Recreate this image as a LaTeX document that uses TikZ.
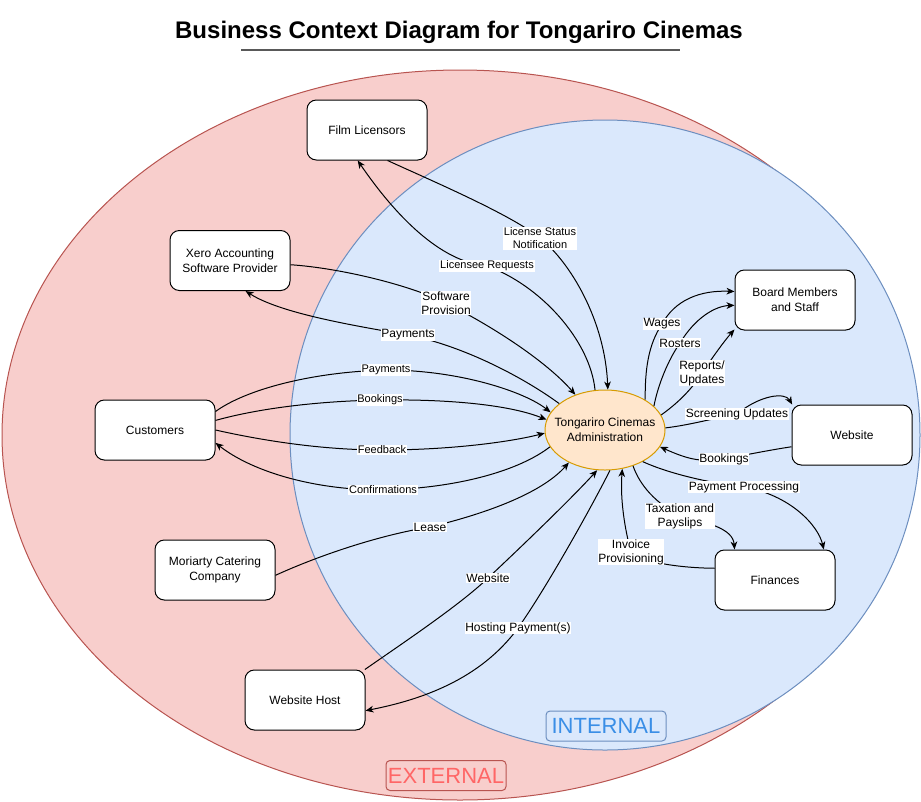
\documentclass[tikz,border=0pt]{standalone}
\usepackage{fontspec}
\setmainfont{Liberation Sans}
\usetikzlibrary{arrows.meta,shapes.geometric}
\definecolor{extfill}{HTML}{F8CECC}
\definecolor{extline}{HTML}{B85450}
\definecolor{exttext}{HTML}{FF6666}
\definecolor{intfill}{HTML}{DAE8FC}
\definecolor{intline}{HTML}{6C8EBF}
\definecolor{inttext}{HTML}{3A8EE6}
\definecolor{admfill}{HTML}{FFE6CC}
\definecolor{admline}{HTML}{D79B00}
\begin{document}
\begin{tikzpicture}[x=0.75pt,y=-0.75pt,
  box/.style={draw=black, fill=white, rounded corners=7pt, minimum width=90pt,
    minimum height=45pt, align=center, font=\fontsize{9}{11}\selectfont,
    line width=0.75pt, inner sep=2pt},
  flow/.style={draw=black, line width=0.75pt,
    -{Stealth[length=6pt,width=5pt,inset=1.8pt]}},
  lab/.style={fill=white, inner sep=0.6pt, align=center,
    font=\fontsize{9}{10.5}\selectfont},
  labs/.style={lab, font=\fontsize{8.25}{10}\selectfont},
  region/.style={rounded corners=3pt, minimum width=90pt, minimum height=22.5pt,
    inner sep=0pt, line width=0.75pt, font=\fontsize{16.5}{18}\selectfont}
]
\useasboundingbox (0,0) rectangle (921,801);

% title and underline
\node[font=\bfseries\fontsize{18}{20}\selectfont, anchor=base] (title) at (459,38)
  {Business Context Diagram for Tongariro Cinemas};
\coordinate (ulA) at (241,50);
\coordinate (ulB) at (680,50);
\draw[black!65, line width=1.1pt] (ulA) -- (ulB);

% external and internal areas
\filldraw[fill=extfill, draw=extline, line width=0.75pt]
  (460,435) ellipse [x radius=458, y radius=365];
\filldraw[fill=intfill, draw=intline, line width=0.75pt]
  (605,435) ellipse [x radius=315, y radius=315];
\node[region, draw=intline, fill=intfill, text=inttext] (intlab) at (606,726) {INTERNAL};
\node[region, draw=extline, fill=extfill, text=exttext] (extlab) at (446,775.5) {EXTERNAL};

% entities
\node[ellipse, draw=admline, fill=admfill, line width=0.75pt, minimum width=90pt,
  minimum height=60pt, inner xsep=-8pt, inner ysep=0pt, align=center,
  font=\fontsize{9}{11}\selectfont] (admin) at (605,430)
  {Tongariro Cinemas\\Administration};
\node[box] (film) at (367,130) {Film Licensors};
\node[box] (xero) at (230,260.5) {Xero Accounting\\Software Provider};
\node[box] (cust) at (155,430) {Customers};
\node[box] (mor) at (215,570) {Moriarty Catering\\Company};
\node[box] (host) at (305,700) {Website Host};
\node[box] (board) at (795,300) {Board Members\\and Staff};
\node[box] (web) at (852,435) {Website};
\node[box] (fin) at (775,580) {Finances};

% film licensors
\draw[flow] (film.304) .. controls (430,180) and (510,214) .. (540,238)
  node[labs] {License Status\\Notification}
  .. controls (570,262) and (605,320) .. (admin.86);
\draw[flow] (admin.104) .. controls (590,340) and (540,285) .. (487,266)
  node[labs] {Licensee Requests}
  .. controls (440,262) and (395,215) .. (film.253);

% xero
\draw[flow] (xero.356) .. controls (340,268) and (410,285) .. (446,303)
  node[lab] {Software\\Provision}
  .. controls (490,325) and (545,360) .. (admin.130);
\draw[flow] (admin.150) .. controls (520,375) and (460,345) .. (408,335)
  node[lab] {Payments}
  .. controls (350,325) and (280,313) .. (xero.297);

% customers
\draw[flow] (cust.17) .. controls (245,390) and (310,372) .. (386,370)
  node[labs] {Payments}
  .. controls (460,370) and (525,392) .. (admin.162);
\draw[flow] (cust.9.5) .. controls (260,408) and (320,401) .. (380,400)
  node[labs] {Bookings}
  .. controls (450,399) and (510,405) .. (admin.170);
\draw[flow] (cust.0) .. controls (260,440) and (320,450) .. (382,450)
  node[labs] {Feedback}
  .. controls (450,450) and (510,442) .. (admin.183);
\draw[flow] (admin.197) .. controls (520,470) and (460,488) .. (383,490)
  node[labs] {Confirmations}
  .. controls (310,490) and (250,470) .. (cust.348);

% catering and hosting
\draw[flow] (mor.355) .. controls (320,555) and (380,535) .. (430,527)
  node[lab] {Lease}
  .. controls (480,515) and (540,495) .. (admin.222);
\draw[flow] (host.27.8) .. controls (400,645) and (460,605) .. (488,578)
  node[lab] {Website}
  .. controls (520,548) and (570,500) .. (admin.259);
\draw[flow] (admin.277) .. controls (590,510) and (545,590) .. (518,628)
  node[lab] {Hosting Payment(s)}
  .. controls (480,680) and (420,700) .. (host.350.5);

% finances
\draw[flow] (fin.169.6) .. controls (680,568) and (640,562) .. (631,552)
  node[lab] {Invoice\\Provisioning}
  .. controls (625,530) and (620,500) .. (admin.294);
\draw[flow] (admin.308) .. controls (638,480) and (650,500) .. (680,516)
  node[lab] {Taxation and\\Payslips}
  .. controls (705,522) and (733,528) .. (fin.143);
\draw[flow] (admin.320) .. controls (670,474) and (710,483) .. (744,487)
  node[lab] {Payment Processing}
  .. controls (790,495) and (818,525) .. (fin.32);

% website
\draw[flow] (web.191) .. controls (770,450) and (745,455) .. (724,459)
  node[lab] {Bookings}
  .. controls (700,463) and (685,458) .. (admin.343);
\draw[flow] (admin.2) .. controls (690,425) and (715,418) .. (737,414)
  node[lab] {Screening Updates}
  .. controls (760,395) and (785,392) .. (web.153);

% board members and staff
\draw[flow] (admin.15) .. controls (675,405) and (690,392) .. (702,373)
  node[lab] {Reports/\\Updates}
  .. controls (712,358) and (725,340) .. (board.206);
\draw[flow] (admin.26) .. controls (658,385) and (668,360) .. (680,343)
  node[lab] {Rosters}
  .. controls (695,318) and (715,306) .. (board.185);
\draw[flow] (admin.37) .. controls (645,370) and (648,345) .. (662,324)
  node[lab] {Wages}
  .. controls (675,300) and (700,290) .. (board.172);
\end{tikzpicture}
\end{document}
